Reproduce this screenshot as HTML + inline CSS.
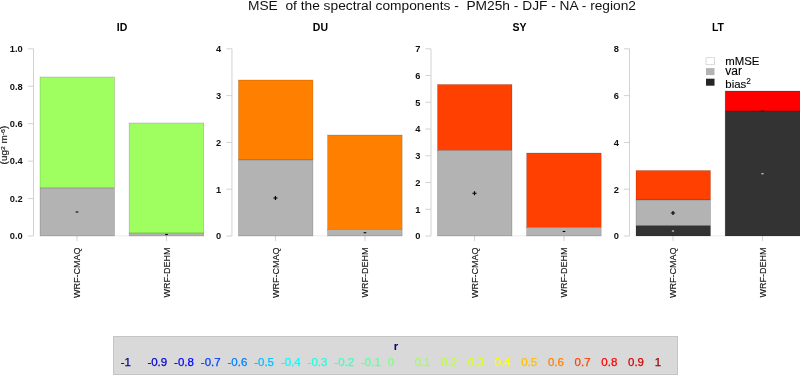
<!DOCTYPE html>
<html lang="en">
<head>
<meta charset="utf-8">
<title>MSE of the spectral components</title>
<style>
html,body{margin:0;padding:0;background:#fff;}
body{width:800px;height:376px;overflow:hidden;}
svg{display:block;}
text{font-family:"Liberation Sans",Arial,sans-serif;}
.tk{font-size:9.3px;font-weight:bold;fill:#111;text-anchor:end;}
.pt{font-size:10.5px;font-weight:bold;fill:#000;text-anchor:middle;}
.xl{font-size:9px;fill:#111;text-anchor:end;stroke:#111;stroke-width:0.12px;}
.lg{font-size:11.4px;fill:#000;stroke:#000;stroke-width:0.12px;}
.cb{font-size:11.5px;stroke-width:0.25px;}
.mk{font-size:7px;text-anchor:middle;font-weight:bold;}
</style>
</head>
<body>
<svg width="800" height="376" viewBox="0 0 800 376">
<rect x="0" y="0" width="800" height="376" fill="#ffffff"/>
<text x="248" y="9.8" font-size="13.7" fill="#111" xml:space="preserve" style="white-space:pre" textLength="388" lengthAdjust="spacingAndGlyphs">MSE  of the spectral components -  PM25h - DJF - NA - region2</text>
<g transform="translate(0.00,0)">
<text class="pt" x="122" y="31">ID</text>
<path d="M33.5,48.8V236.0M28.0,236.00H33.5M28.0,198.56H33.5M28.0,161.12H33.5M28.0,123.68H33.5M28.0,86.24H33.5M28.0,48.80H33.5M77.0,236.0v5M166.5,236.0v5" stroke="#d2d2d2" stroke-width="1" fill="none"/>
<text class="tk" x="22.8" y="239.30">0.0</text>
<text class="tk" x="22.8" y="201.86">0.2</text>
<text class="tk" x="22.8" y="164.42">0.4</text>
<text class="tk" x="22.8" y="126.98">0.6</text>
<text class="tk" x="22.8" y="89.54">0.8</text>
<text class="tk" x="22.8" y="52.10">1.0</text>
<path d="M114.5,235.8H129.2" stroke="#e9e9e9" stroke-width="0.8"/>
<rect x="40.0" y="77" width="74.5" height="111.00" fill="#9fff60" stroke="rgba(0,0,0,0.25)" stroke-width="0.6"/>
<rect x="40.0" y="188" width="74.5" height="48.00" fill="#b3b3b3" stroke="rgba(0,0,0,0.25)" stroke-width="0.6"/>
<rect x="129.15" y="123" width="74.54999999999998" height="110.10" fill="#9fff60" stroke="rgba(0,0,0,0.25)" stroke-width="0.6"/>
<rect x="129.15" y="233.1" width="74.54999999999998" height="2.90" fill="#b3b3b3" stroke="rgba(0,0,0,0.25)" stroke-width="0.6"/>
<path d="M75.7,212h2.6" stroke="#000" stroke-width="1.1"/>
<path d="M165.2,234.5h2.6" stroke="#000" stroke-width="1.1"/>
<text class="xl" transform="translate(80.3,247.5) rotate(-90)" x="0" y="0">WRF-CMAQ</text>
<text class="xl" transform="translate(169.8,247.5) rotate(-90)" x="0" y="0">WRF-DEHM</text>
</g>
<g transform="translate(198.45,0)">
<text class="pt" x="122" y="31">DU</text>
<path d="M33.5,48.8V236.0M28.0,236.00H33.5M28.0,189.20H33.5M28.0,142.40H33.5M28.0,95.60H33.5M28.0,48.80H33.5M77.0,236.0v5M166.5,236.0v5" stroke="#d2d2d2" stroke-width="1" fill="none"/>
<text class="tk" x="22.8" y="239.30">0</text>
<text class="tk" x="22.8" y="192.50">1</text>
<text class="tk" x="22.8" y="145.70">2</text>
<text class="tk" x="22.8" y="98.90">3</text>
<text class="tk" x="22.8" y="52.10">4</text>
<path d="M114.5,235.8H129.2" stroke="#e9e9e9" stroke-width="0.8"/>
<rect x="40.0" y="80" width="74.5" height="80.00" fill="#ff8000" stroke="rgba(0,0,0,0.25)" stroke-width="0.6"/>
<rect x="40.0" y="160" width="74.5" height="76.00" fill="#b3b3b3" stroke="rgba(0,0,0,0.25)" stroke-width="0.6"/>
<rect x="129.15" y="135" width="74.54999999999998" height="94.50" fill="#ff8000" stroke="rgba(0,0,0,0.25)" stroke-width="0.6"/>
<rect x="129.15" y="229.5" width="74.54999999999998" height="6.50" fill="#b3b3b3" stroke="rgba(0,0,0,0.25)" stroke-width="0.6"/>
<path d="M74.9,198h4.2M77.0,195.9v4.2" stroke="#000" stroke-width="1.2"/>
<path d="M165.2,232.7h2.6" stroke="#000" stroke-width="1.1"/>
<text class="xl" transform="translate(80.3,247.5) rotate(-90)" x="0" y="0">WRF-CMAQ</text>
<text class="xl" transform="translate(169.8,247.5) rotate(-90)" x="0" y="0">WRF-DEHM</text>
</g>
<g transform="translate(397.50,0)">
<text class="pt" x="122" y="31">SY</text>
<path d="M33.5,48.8V236.0M28.0,236.00H33.5M28.0,209.26H33.5M28.0,182.51H33.5M28.0,155.77H33.5M28.0,129.03H33.5M28.0,102.29H33.5M28.0,75.54H33.5M28.0,48.80H33.5M77.0,236.0v5M166.5,236.0v5" stroke="#d2d2d2" stroke-width="1" fill="none"/>
<text class="tk" x="22.8" y="239.30">0</text>
<text class="tk" x="22.8" y="212.56">1</text>
<text class="tk" x="22.8" y="185.81">2</text>
<text class="tk" x="22.8" y="159.07">3</text>
<text class="tk" x="22.8" y="132.33">4</text>
<text class="tk" x="22.8" y="105.59">5</text>
<text class="tk" x="22.8" y="78.84">6</text>
<text class="tk" x="22.8" y="52.10">7</text>
<path d="M114.5,235.8H129.2" stroke="#e9e9e9" stroke-width="0.8"/>
<rect x="40.0" y="84.5" width="74.5" height="66.00" fill="#ff4000" stroke="rgba(0,0,0,0.25)" stroke-width="0.6"/>
<rect x="40.0" y="150.5" width="74.5" height="85.50" fill="#b3b3b3" stroke="rgba(0,0,0,0.25)" stroke-width="0.6"/>
<rect x="129.15" y="153" width="74.54999999999998" height="74.50" fill="#ff4000" stroke="rgba(0,0,0,0.25)" stroke-width="0.6"/>
<rect x="129.15" y="227.5" width="74.54999999999998" height="8.50" fill="#b3b3b3" stroke="rgba(0,0,0,0.25)" stroke-width="0.6"/>
<path d="M74.9,193.25h4.2M77.0,191.15v4.2" stroke="#000" stroke-width="1.2"/>
<path d="M165.2,231.5h2.6" stroke="#000" stroke-width="1.1"/>
<text class="xl" transform="translate(80.3,247.5) rotate(-90)" x="0" y="0">WRF-CMAQ</text>
<text class="xl" transform="translate(169.8,247.5) rotate(-90)" x="0" y="0">WRF-DEHM</text>
</g>
<g transform="translate(596.00,0)">
<text class="pt" x="122" y="31">LT</text>
<path d="M33.5,48.8V236.0M28.0,236.00H33.5M28.0,189.20H33.5M28.0,142.40H33.5M28.0,95.60H33.5M28.0,48.80H33.5M77.0,236.0v5M166.5,236.0v5" stroke="#d2d2d2" stroke-width="1" fill="none"/>
<text class="tk" x="22.8" y="239.30">0</text>
<text class="tk" x="22.8" y="192.50">2</text>
<text class="tk" x="22.8" y="145.70">4</text>
<text class="tk" x="22.8" y="98.90">6</text>
<text class="tk" x="22.8" y="52.10">8</text>
<path d="M114.5,235.8H129.2" stroke="#e9e9e9" stroke-width="0.8"/>
<rect x="40.0" y="170.5" width="74.5" height="29.50" fill="#ff4000" stroke="rgba(0,0,0,0.25)" stroke-width="0.6"/>
<rect x="40.0" y="200" width="74.5" height="25.75" fill="#b3b3b3" stroke="rgba(0,0,0,0.25)" stroke-width="0.6"/>
<rect x="40.0" y="225.75" width="74.5" height="10.25" fill="#333333" stroke="rgba(0,0,0,0.25)" stroke-width="0.6"/>
<rect x="129.15" y="91" width="76.54999999999998" height="20.00" fill="#ff0000" stroke="rgba(0,0,0,0.25)" stroke-width="0.6"/>
<rect x="129.15" y="111" width="76.54999999999998" height="125.00" fill="#333333" stroke="rgba(0,0,0,0.25)" stroke-width="0.6"/>
<path d="M74.9,213h4.2M77.0,210.9v4.2" stroke="#000" stroke-width="1.2"/>
<path d="M75.9,231h2.2" stroke="#e4e4e4" stroke-width="1.1"/>
<path d="M165.4,173.75h2.2" stroke="#e4e4e4" stroke-width="1.1"/>
<path d="M165.2,111h2.6" stroke="#222" stroke-width="1.1"/>
<text class="xl" transform="translate(80.3,247.5) rotate(-90)" x="0" y="0">WRF-CMAQ</text>
<text class="xl" transform="translate(169.8,247.5) rotate(-90)" x="0" y="0">WRF-DEHM</text>
</g>
<text transform="translate(7.2,164.4) rotate(-90)" font-size="8.6" fill="#111" stroke="#111" stroke-width="0.15" textLength="38.6" lengthAdjust="spacingAndGlyphs">(ug<tspan font-size="6" dy="-2.6">2</tspan><tspan dy="2.6"> m</tspan><tspan font-size="6" dy="-2.6">-6</tspan><tspan dy="2.6">)</tspan></text>
<rect x="706" y="57.7" width="8.5" height="7" fill="#fff" stroke="#d0d0d0" stroke-width="0.8"/>
<rect x="706" y="68.1" width="8.5" height="7" fill="#b3b3b3"/>
<rect x="706" y="78.7" width="8.5" height="7" fill="#252525"/>
<text class="lg" x="725.3" y="65.3">mMSE</text>
<text class="lg" x="725.3" y="74.8" style="font-size:12px">var</text>
<text class="lg" x="725.3" y="87.6">bias<tspan font-size="8.3" dy="-4">2</tspan></text>
<rect x="113.5" y="336.5" width="564" height="38" fill="#d9d9d9" stroke="#c4c4c4" stroke-width="1"/>
<text x="396" y="350" font-size="11.5" font-weight="bold" fill="#000080" text-anchor="middle">r</text>
<text class="cb" x="120.70" y="366.3" fill="#000090" stroke="#000090">-1</text>
<text class="cb" x="147.40" y="366.3" fill="#0000c8" stroke="#0000c8">-0.9</text>
<text class="cb" x="174.10" y="366.3" fill="#0000ff" stroke="#0000ff">-0.8</text>
<text class="cb" x="200.80" y="366.3" fill="#0040ff" stroke="#0040ff">-0.7</text>
<text class="cb" x="227.50" y="366.3" fill="#0080ff" stroke="#0080ff">-0.6</text>
<text class="cb" x="254.20" y="366.3" fill="#00bfff" stroke="#00bfff">-0.5</text>
<text class="cb" x="280.90" y="366.3" fill="#00ffff" stroke="#00ffff">-0.4</text>
<text class="cb" x="307.60" y="366.3" fill="#20ffdf" stroke="#20ffdf">-0.3</text>
<text class="cb" x="334.30" y="366.3" fill="#40ffbf" stroke="#40ffbf">-0.2</text>
<text class="cb" x="361.00" y="366.3" fill="#60ff9f" stroke="#60ff9f">-0.1</text>
<text class="cb" x="387.70" y="366.3" fill="#80ff80" stroke="#80ff80">0</text>
<text class="cb" x="414.40" y="366.3" fill="#9fff60" stroke="#9fff60">0.1</text>
<text class="cb" x="441.10" y="366.3" fill="#bfff40" stroke="#bfff40">0.2</text>
<text class="cb" x="467.80" y="366.3" fill="#dfff20" stroke="#dfff20">0.3</text>
<text class="cb" x="494.50" y="366.3" fill="#ffff00" stroke="#ffff00">0.4</text>
<text class="cb" x="521.20" y="366.3" fill="#ffbf00" stroke="#ffbf00">0.5</text>
<text class="cb" x="547.90" y="366.3" fill="#ff8000" stroke="#ff8000">0.6</text>
<text class="cb" x="574.60" y="366.3" fill="#ff4000" stroke="#ff4000">0.7</text>
<text class="cb" x="601.30" y="366.3" fill="#ff0000" stroke="#ff0000">0.8</text>
<text class="cb" x="628.00" y="366.3" fill="#d00000" stroke="#d00000">0.9</text>
<text class="cb" x="654.70" y="366.3" fill="#980000" stroke="#980000">1</text>
</svg>
</body>
</html>
